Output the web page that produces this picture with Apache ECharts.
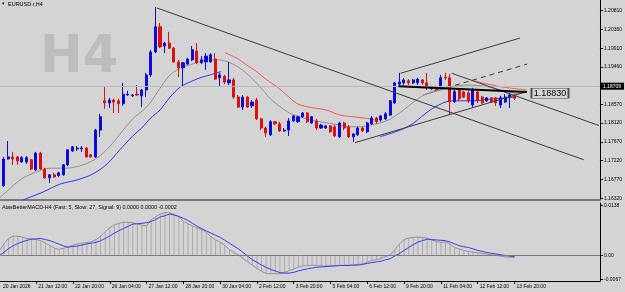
<!DOCTYPE html>
<html>
<head>
<meta charset="utf-8">
<script src="https://cdn.jsdelivr.net/npm/echarts@6/dist/echarts.min.js"></script>
<style>
  html, body { margin: 0; padding: 0; background: #d4d4d4; }
  #chart { width: 625px; height: 292px; }
</style>
</head>
<body>
<div id="chart"></div>
<script>
// time axis labels, one every 8 H4 bars
const timeLabels = ['20 Jan 2026', '21 Jan 12:00', '22 Jan 20:00', '26 Jan 04:00', '27 Jan 12:00', '28 Jan 20:00',
  '30 Jan 04:00', '2 Feb 12:00', '3 Feb 20:00', '5 Feb 04:00', '6 Feb 12:00', '9 Feb 20:00', '11 Feb 04:00',
  '12 Feb 12:00', '13 Feb 20:00']
const labelBars = [0, 8, 16, 24, 32, 40, 48, 56, 64, 72, 80, 88, 96, 104, 112]

const priceTicks = [1.20810, 1.20360, 1.19910, 1.19460, 1.19020, 1.18570, 1.18120, 1.17670, 1.17220, 1.16770, 1.16320]
const macdTicks = [0.0138, 0, -0.0067]

// EURUSD H4 candles
const opens = [1.1633, 1.1662, 1.1726, 1.1731, 1.1731, 1.1719, 1.1719, 1.1724, 1.1700, 1.1740,
  1.1702, 1.1681, 1.1688, 1.1686, 1.1688, 1.1712, 1.1745, 1.1750, 1.1750, 1.1752,
  1.1736, 1.1731, 1.1795, 1.1865, 1.1860, 1.1867, 1.1865, 1.1858, 1.1879, 1.1877,
  1.1881, 1.1877, 1.1891, 1.1927, 1.1982, 1.2042, 1.1996, 1.2003, 1.1991, 1.1958,
  1.1944, 1.1953, 1.1963, 1.1984, 1.1956, 1.1958, 1.1958, 1.1965, 1.1920, 1.1924,
  1.1908, 1.1915, 1.1874, 1.1850, 1.1874, 1.1853, 1.1867, 1.1822, 1.1800, 1.1784,
  1.1815, 1.1810, 1.1793, 1.1795, 1.1817, 1.1815, 1.1827, 1.1836, 1.1812, 1.1817,
  1.1800, 1.1800, 1.1805, 1.1803, 1.1779, 1.1812, 1.1803, 1.1779, 1.1784, 1.1800,
  1.1791, 1.1810, 1.1824, 1.1819, 1.1822, 1.1831, 1.1860, 1.1905, 1.1908, 1.1913,
  1.1908, 1.1908, 1.1915, 1.1908, 1.1894, 1.1898, 1.1898, 1.1922, 1.1920, 1.1863,
  1.1894, 1.1886, 1.1884, 1.1855, 1.1886, 1.1874, 1.1865, 1.1872, 1.1872, 1.1855,
  1.1862, 1.1874, 1.1877]
const closes = [1.1664, 1.1726, 1.1731, 1.1726, 1.1721, 1.1729, 1.1729, 1.1702, 1.1740, 1.1702,
  1.1681, 1.1688, 1.1683, 1.1693, 1.1712, 1.1748, 1.1755, 1.1752, 1.1752, 1.1731,
  1.1731, 1.1795, 1.1827, 1.1860, 1.1867, 1.1862, 1.1858, 1.1881, 1.1881, 1.1879,
  1.1879, 1.1891, 1.1927, 1.1982, 1.2042, 1.1994, 1.2003, 1.1991, 1.1958, 1.1944,
  1.1956, 1.1965, 1.1987, 1.1956, 1.1963, 1.1972, 1.1975, 1.1917, 1.1927, 1.1910,
  1.1915, 1.1874, 1.1850, 1.1874, 1.1850, 1.1862, 1.1822, 1.1800, 1.1788, 1.1815,
  1.1810, 1.1793, 1.1795, 1.1817, 1.1829, 1.1827, 1.1836, 1.1815, 1.1827, 1.1800,
  1.1807, 1.1805, 1.1791, 1.1781, 1.1812, 1.1800, 1.1779, 1.1786, 1.1800, 1.1793,
  1.1812, 1.1824, 1.1815, 1.1829, 1.1834, 1.1865, 1.1908, 1.1910, 1.1915, 1.1908,
  1.1915, 1.1917, 1.1908, 1.1896, 1.1898, 1.1891, 1.1920, 1.1920, 1.1863, 1.1887,
  1.1870, 1.1874, 1.1865, 1.1891, 1.1865, 1.1860, 1.1872, 1.1862, 1.1860, 1.1872,
  1.1874, 1.1879, 1.1871]
const lows = [1.1631, 1.1659, 1.1724, 1.1712, 1.1712, 1.1717, 1.1714, 1.1700, 1.1697, 1.1700,
  1.1678, 1.1669, 1.1681, 1.1683, 1.1686, 1.1709, 1.1743, 1.1745, 1.1743, 1.1729,
  1.1729, 1.1729, 1.1779, 1.1846, 1.1848, 1.1836, 1.1836, 1.1853, 1.1877, 1.1874,
  1.1877, 1.1850, 1.1874, 1.1922, 1.1979, 1.1991, 1.1979, 1.1989, 1.1956, 1.1922,
  1.1898, 1.1951, 1.1960, 1.1953, 1.1953, 1.1939, 1.1956, 1.1915, 1.1898, 1.1905,
  1.1903, 1.1870, 1.1848, 1.1843, 1.1848, 1.1848, 1.1819, 1.1795, 1.1779, 1.1781,
  1.1807, 1.1791, 1.1791, 1.1781, 1.1815, 1.1812, 1.1824, 1.1812, 1.1810, 1.1795,
  1.1798, 1.1798, 1.1788, 1.1779, 1.1776, 1.1795, 1.1776, 1.1767, 1.1781, 1.1791,
  1.1788, 1.1807, 1.1810, 1.1815, 1.1819, 1.1829, 1.1858, 1.1901, 1.1903, 1.1903,
  1.1905, 1.1903, 1.1903, 1.1891, 1.1891, 1.1889, 1.1896, 1.1915, 1.1831, 1.1860,
  1.1865, 1.1872, 1.1860, 1.1850, 1.1860, 1.1858, 1.1862, 1.1860, 1.1853, 1.1848,
  1.1860, 1.1848, 1.1867]
const highs = [1.1669, 1.1731, 1.1769, 1.1743, 1.1733, 1.1733, 1.1733, 1.1726, 1.1743, 1.1743,
  1.1705, 1.1690, 1.1693, 1.1695, 1.1714, 1.1750, 1.1757, 1.1757, 1.1757, 1.1755,
  1.1738, 1.1798, 1.1834, 1.1898, 1.1872, 1.1870, 1.1870, 1.1908, 1.1889, 1.1881,
  1.1903, 1.1893, 1.1932, 1.1987, 1.2089, 1.2051, 1.2006, 1.2030, 1.1994, 1.1963,
  1.1958, 1.1968, 1.1996, 1.2003, 1.1972, 1.1979, 1.1979, 1.1979, 1.1932, 1.1927,
  1.1958, 1.1920, 1.1879, 1.1879, 1.1877, 1.1867, 1.1872, 1.1824, 1.1803, 1.1819,
  1.1817, 1.1815, 1.1800, 1.1824, 1.1831, 1.1829, 1.1838, 1.1838, 1.1829, 1.1822,
  1.1810, 1.1807, 1.1807, 1.1807, 1.1815, 1.1815, 1.1807, 1.1788, 1.1803, 1.1803,
  1.1815, 1.1829, 1.1827, 1.1831, 1.1838, 1.1867, 1.1910, 1.1932, 1.1920, 1.1917,
  1.1917, 1.1920, 1.1917, 1.1932, 1.1901, 1.1901, 1.1927, 1.1932, 1.1929, 1.1896,
  1.1896, 1.1889, 1.1889, 1.1896, 1.1891, 1.1877, 1.1874, 1.1874, 1.1874, 1.1877,
  1.1881, 1.1884, 1.1881]

// moving averages: [bar, price]
const grayMA = [[0, 1.1631], [4.6, 1.1676], [7.5, 1.1692], [11.1, 1.1704], [14.7, 1.1704], [18.3, 1.1712],
  [21.3, 1.1728], [24.1, 1.1756], [27.0, 1.1795], [29.2, 1.1823], [31.4, 1.1843], [32.8, 1.1859],
  [35.0, 1.1895], [37.2, 1.1927], [39.4, 1.1943], [41.5, 1.1951], [43.7, 1.1959], [45.9, 1.1963],
  [48.0, 1.1963], [50.2, 1.1956], [52.4, 1.1943], [54.6, 1.1923], [56.7, 1.1899], [58.9, 1.1871],
  [61.1, 1.1851], [63.3, 1.1835], [65.4, 1.1827], [67.6, 1.1819], [69.8, 1.1815], [71.9, 1.1811],
  [74.1, 1.1807], [76.3, 1.1803], [78.5, 1.1803], [80.8, 1.1807], [84.6, 1.1819], [87.9, 1.1843],
  [91.7, 1.1875], [95.1, 1.1891], [97.3, 1.1897], [101.8, 1.1903], [106.1, 1.1899], [110.4, 1.1887],
  [113.2, 1.1881]]
const blueMA1 = [[5.2, 1.1628], [9.6, 1.1647], [13.3, 1.1666], [17.0, 1.1676], [20.4, 1.1690], [23.5, 1.1714],
  [26.3, 1.1748], [29.1, 1.1781], [31.3, 1.1803], [32.8, 1.1822], [35.0, 1.1843], [37.2, 1.1874],
  [39.4, 1.1898], [41.5, 1.1910], [43.7, 1.1920], [45.9, 1.1927], [48.3, 1.1935]]
const blueMA2 = [[82.8, 1.1779], [87.2, 1.1795], [90.0, 1.1811], [93.7, 1.1843], [97.3, 1.1863], [99.5, 1.1865],
  [103.0, 1.1865], [106.7, 1.1869], [110.0, 1.1872], [112.2, 1.1874]]
const redMA1 = [[49.1, 1.1980], [51.7, 1.1967], [53.8, 1.1951], [56.0, 1.1935], [58.2, 1.1915], [60.4, 1.1899],
  [62.5, 1.1879], [64.7, 1.1859], [66.9, 1.1851], [69.1, 1.1847], [71.2, 1.1843], [74.1, 1.1831],
  [77.0, 1.1827], [79.9, 1.1823], [82.1, 1.1818]]
const redMA2 = [[103.0, 1.1913], [108.9, 1.1899], [114.7, 1.1891]]

// drawn objects: [bar, price] end points
const trendA = [[34.35, 1.2087], [127.1, 1.1724]]
const trendB = [[98.4, 1.1931], [130.4, 1.1806]]
const chanUpper = [[87.3, 1.1931], [113.2, 1.2015]]
const chanLower = [[77.4, 1.1765], [114.7, 1.1887]]
const chanMidStart = [[92.2, 1.1879], [98.5, 1.1899]]
const chanMid = [[99.1, 1.1902], [114.8, 1.1953]]
const levelLine = [[86.8, 1.1900], [114.7, 1.1886]]
const bidPrice = 1.18709
const labelPrice = 1.18830

// AtasBetterMACD values
const macdValues = [0.0012, 0.0033, 0.0047, 0.0054, 0.0053, 0.0051, 0.0047, 0.0046, 0.0044, 0.0041,
  0.0034, 0.0027, 0.0020, 0.0017, 0.0020, 0.0024, 0.0029, 0.0032, 0.0034, 0.0036,
  0.0038, 0.0044, 0.0054, 0.0066, 0.0077, 0.0085, 0.0089, 0.0092, 0.0092, 0.0091,
  0.0087, 0.0084, 0.0082, 0.0099, 0.0108, 0.0115, 0.0119, 0.0118, 0.0114, 0.0108,
  0.0094, 0.0088, 0.0082, 0.0076, 0.0071, 0.0064, 0.0052, 0.0043, 0.0037, 0.0028,
  0.0016, 0.0009, 0.0001, -0.0009, -0.0018, -0.0027, -0.0036, -0.0044, -0.0050, -0.0051,
  -0.0051, -0.0051, -0.0047, -0.0042, -0.0038, -0.0032, -0.0029, -0.0028, -0.0027, -0.0028,
  -0.0029, -0.0029, -0.0029, -0.0029, -0.0028, -0.0027, -0.0027, -0.0026, -0.0025, -0.0023,
  -0.0019, -0.0014, -0.0012, -0.0008, -0.0003, 0.0002, 0.0016, 0.0032, 0.0044, 0.0048,
  0.0050, 0.0051, 0.0050, 0.0048, 0.0043, 0.0039, 0.0036, 0.0038, 0.0031, 0.0022,
  0.0018, 0.0014, 0.0011, 0.0009, 0.0007, 0.0006, 0.0004, 0.0002, 0.0000, -0.0002,
  -0.0004, -0.0005, -0.0006]
const signalValues = [0.0000, 0.0009, 0.0019, 0.0027, 0.0033, 0.0038, 0.0042, 0.0045, 0.0046, 0.0047,
  0.0044, 0.0041, 0.0036, 0.0031, 0.0026, 0.0023, 0.0025, 0.0026, 0.0029, 0.0032,
  0.0034, 0.0036, 0.0041, 0.0047, 0.0054, 0.0062, 0.0069, 0.0075, 0.0081, 0.0087,
  0.0088, 0.0089, 0.0091, 0.0094, 0.0100, 0.0107, 0.0110, 0.0115, 0.0112, 0.0108,
  0.0103, 0.0097, 0.0089, 0.0081, 0.0074, 0.0068, 0.0062, 0.0056, 0.0050, 0.0042,
  0.0034, 0.0026, 0.0018, 0.0008, -0.0002, -0.0012, -0.0019, -0.0027, -0.0033, -0.0039,
  -0.0043, -0.0048, -0.0049, -0.0049, -0.0047, -0.0043, -0.0040, -0.0037, -0.0035, -0.0033,
  -0.0032, -0.0031, -0.0030, -0.0029, -0.0028, -0.0028, -0.0028, -0.0027, -0.0027, -0.0025,
  -0.0022, -0.0020, -0.0018, -0.0016, -0.0012, -0.0009, -0.0001, 0.0005, 0.0014, 0.0022,
  0.0030, 0.0037, 0.0041, 0.0045, 0.0044, 0.0043, 0.0042, 0.0041, 0.0037, 0.0032,
  0.0027, 0.0024, 0.0022, 0.0018, 0.0014, 0.0011, 0.0008, 0.0006, 0.0004, 0.0002,
  0.0000, -0.0002, -0.0003]

const FONT = 'Liberation Sans'
const X_MIN = 0.24
const X_MAX = 130.6

const chart = echarts.init(document.getElementById('chart'), null, { renderer: 'canvas' })

const candleData = opens.map((o, i) => [i, o, closes[i], lows[i], highs[i]])
const macdData = macdValues.map((v, i) => [i, v])
const signalData = signalValues.map((v, i) => [i, v])

const priceLine = (data, color, width, extra) => Object.assign({
  type: 'line',
  xAxisIndex: 0,
  yAxisIndex: 0,
  data: data,
  showSymbol: false,
  silent: true,
  clip: true,
  lineStyle: { color: color, width: width }
}, extra || {})

const option = {
  backgroundColor: '#d4d4d4',
  animation: false,
  grid: [
    { left: 0, right: 25, top: 0, height: 200 },
    { left: 0, right: 25, top: 203, height: 78 }
  ],
  xAxis: [
    {
      type: 'value', gridIndex: 0, min: X_MIN, max: X_MAX,
      axisLine: { show: true, onZero: false, lineStyle: { color: '#7a7a7a', width: 2 } },
      axisTick: { show: false },
      axisLabel: { show: false },
      splitLine: { show: false }
    },
    {
      type: 'value', gridIndex: 1, min: X_MIN, max: X_MAX,
      axisLine: { show: true, onZero: false, lineStyle: { color: '#000', width: 1 } },
      axisTick: { show: true, customValues: labelBars.slice(1), length: 3, lineStyle: { color: '#000' } },
      axisLabel: {
        customValues: labelBars.map(b => Math.max(b, X_MIN + 0.1)),
        formatter: v => timeLabels[labelBars.indexOf(Math.round(v))],
        align: 'left',
        padding: [0, 0, 0, 2],
        margin: 3,
        fontSize: 5,
        fontFamily: FONT,
        color: '#000'
      },
      splitLine: { show: false }
    }
  ],
  yAxis: [
    {
      type: 'value', gridIndex: 0, position: 'right', min: 1.16279, max: 1.21061,
      axisLine: { show: true, onZero: false, lineStyle: { color: '#000' } },
      axisTick: { show: true, customValues: priceTicks, length: 3, lineStyle: { color: '#000' } },
      axisLabel: {
        customValues: priceTicks,
        formatter: v => v.toFixed(5),
        margin: 4, fontSize: 5, fontFamily: FONT, color: '#000'
      },
      splitLine: { show: false }
    },
    {
      type: 'value', gridIndex: 1, position: 'right', min: -0.0071, max: 0.01455,
      axisLine: { show: true, onZero: false, lineStyle: { color: '#000' } },
      axisTick: { show: true, customValues: macdTicks, length: 3, lineStyle: { color: '#000' } },
      axisLabel: {
        customValues: macdTicks,
        formatter: v => (v === 0 ? '0.00' : v.toFixed(4)),
        margin: 4, fontSize: 5, fontFamily: FONT, color: '#000'
      },
      splitLine: { show: false }
    }
  ],
  graphic: [
    {
      type: 'text', left: 40, top: 33, z: 0, silent: true,
      style: { text: 'H4', font: 'bold 51px "DejaVu Sans"', fill: '#bdbdbd' }
    },
    {
      type: 'text', left: 2, top: 1, z: 10, silent: true,
      style: { text: '\u25BE', font: '5px "DejaVu Sans"', fill: '#000' }
    },
    {
      type: 'text', left: 8, top: 1, z: 10, silent: true,
      style: { text: 'EURUSD.r,H4', font: '5.5px "Liberation Sans"', fill: '#000' }
    },
    {
      type: 'text', left: 2, top: 205, z: 10, silent: true,
      style: {
        text: 'AtasBetterMACD-H4 (Fast: 5, Slow: 27, Signal: 9) 0.0000 0.0000 -0.0002',
        font: '5.4px "Liberation Sans"', fill: '#000'
      }
    }
  ],
  series: [
    {
      type: 'candlestick',
      xAxisIndex: 0,
      yAxisIndex: 0,
      data: candleData,
      encode: { x: 0, y: [1, 2, 3, 4] },
      barWidth: 2.6,
      silent: true,
      z: 4,
      itemStyle: {
        color: '#0000ff',
        color0: '#ff0000',
        borderColor: '#1010c8',
        borderColor0: '#c81818',
        borderWidth: 1
      },
      markLine: {
        silent: true,
        symbol: ['none', 'none'],
        lineStyle: { color: '#bababa', type: 'solid', width: 1 },
        label: {
          show: true, position: 'end', distance: 1,
          formatter: bidPrice.toFixed(5),
          backgroundColor: '#000', color: '#fff',
          fontSize: 5, fontFamily: FONT, padding: [1, 3, 1, 2]
        },
        data: [{ yAxis: bidPrice }]
      }
    },
    priceLine(grayMA, '#909090', 1, { smooth: 0.3, z: 3 }),
    priceLine(blueMA1, '#3535f5', 1, { smooth: 0.3, z: 3 }),
    priceLine(blueMA2, '#3535f5', 1, { smooth: 0.3, z: 3 }),
    priceLine(redMA1, '#ff5555', 1, { smooth: 0.3, z: 3 }),
    priceLine(redMA2, '#ff5555', 1, { smooth: 0.3, z: 3 }),
    priceLine(trendA, '#3a3a3a', 1, { z: 5 }),
    priceLine(trendB, '#3a3a3a', 1, { z: 5 }),
    priceLine(chanUpper, '#3a3a3a', 1, { z: 5 }),
    priceLine(chanLower, '#3a3a3a', 1, { z: 5 }),
    priceLine(chanMidStart, '#808080', 1, { z: 5 }),
    priceLine(chanMid, '#3a3a3a', 1, { z: 5, lineStyle: { color: '#3a3a3a', width: 1, type: [5, 4] } }),
    priceLine(levelLine, '#000', 2, {
      z: 6,
      markPoint: {
        silent: true,
        symbol: 'rect',
        symbolSize: [37, 10],
        itemStyle: { color: '#d6d6d6', borderColor: '#4a4a4a', borderWidth: 1 },
        label: { show: true, formatter: labelPrice.toFixed(5), fontSize: 9, fontFamily: FONT, color: '#000' },
        data: [{ coord: [119.75, labelPrice] }]
      }
    }),
    {
      type: 'bar',
      xAxisIndex: 1,
      yAxisIndex: 1,
      data: macdData,
      barWidth: 1,
      silent: true,
      itemStyle: { color: '#ababab' },
      markLine: {
        silent: true,
        symbol: ['none', 'none'],
        lineStyle: { color: '#7a7a7a', type: 'solid', width: 1 },
        label: { show: false },
        data: [{ yAxis: 0 }]
      }
    },
    {
      type: 'line',
      xAxisIndex: 1,
      yAxisIndex: 1,
      data: macdData,
      showSymbol: false,
      silent: true,
      lineStyle: { color: '#959595', width: 1 }
    },
    {
      type: 'line',
      xAxisIndex: 1,
      yAxisIndex: 1,
      data: signalData,
      showSymbol: false,
      silent: true,
      lineStyle: { color: '#3b3bf5', width: 1 }
    }
  ]
}

chart.setOption(option)
</script>
</body>
</html>
